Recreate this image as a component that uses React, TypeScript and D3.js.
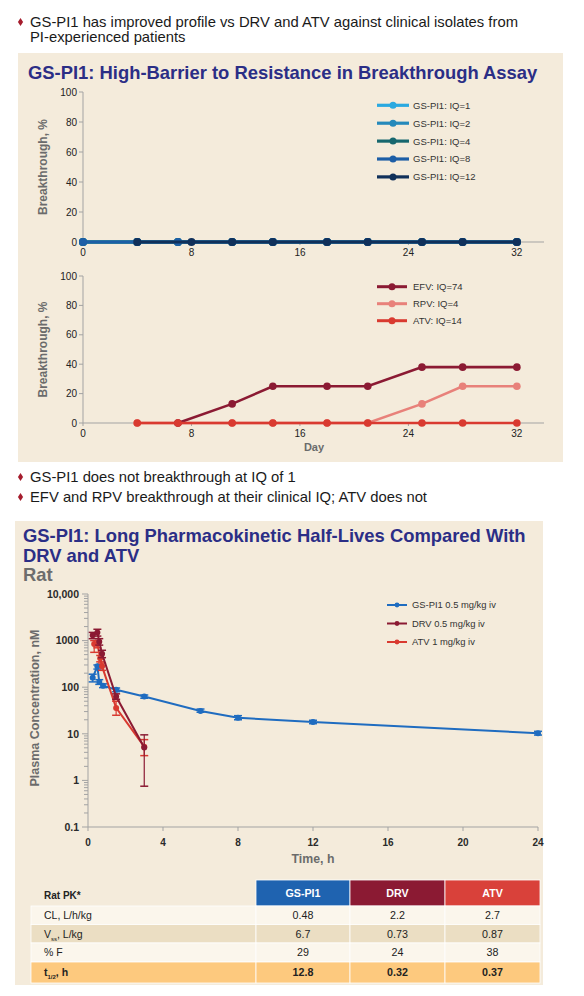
import React from 'react';
import * as d3 from 'd3';

// ---------- DATA ----------
const headerBullet = ['GS-PI1 has improved profile vs DRV and ATV against clinical isolates from', 'PI-experienced patients'];
const chart1Title = 'GS-PI1: High-Barrier to Resistance in Breakthrough Assay';
const midBullets = ['GS-PI1 does not breakthrough at IQ of 1', 'EFV and RPV breakthrough at their clinical IQ; ATV does not'];
const chart2TitleLines = ['GS-PI1: Long Pharmacokinetic Half-Lives Compared With', 'DRV and ATV'];
const chart2Subtitle = 'Rat';

const dayTicks = [0, 8, 16, 24, 32];
const pctTicks = [0, 20, 40, 60, 80, 100];

const gsNames = ['GS-PI1: IQ=1', 'GS-PI1: IQ=2', 'GS-PI1: IQ=4', 'GS-PI1: IQ=8', 'GS-PI1: IQ=12'];
const gsColors = ['#2aa9e0', '#2589bb', '#17676e', '#1d5ea6', '#10305a'];
const gsDays = [
  [0, 4, 7, 11, 14, 18, 21, 25, 28, 32],
  [0, 4, 7, 11, 14, 18, 21, 25, 28, 32],
  [0, 4, 7, 11, 14, 18, 21, 25, 28, 32],
  [0, 4, 7, 11, 14, 18, 21, 25, 28, 32],
  [4, 8, 11, 14, 18, 21, 25, 28, 32],
];
const gsBreakthrough = [
  [0, 0, 0, 0, 0, 0, 0, 0, 0, 0],
  [0, 0, 0, 0, 0, 0, 0, 0, 0, 0],
  [0, 0, 0, 0, 0, 0, 0, 0, 0, 0],
  [0, 0, 0, 0, 0, 0, 0, 0, 0, 0],
  [0, 0, 0, 0, 0, 0, 0, 0, 0],
];

const ctrlNames = ['EFV: IQ=74', 'RPV: IQ=4', 'ATV: IQ=14'];
const ctrlColors = ['#8b1a33', '#e8817a', '#d93a30'];
const efvDays = [7, 11, 14, 18, 21, 25, 28, 32];
const efvBreakthrough = [0, 13, 25, 25, 25, 38, 38, 38];
const rpvDays = [4, 7, 11, 14, 18, 21, 25, 28, 32];
const rpvBreakthrough = [0, 0, 0, 0, 0, 0, 13, 25, 25];
const atvDays = [4, 7, 11, 14, 18, 21, 25, 28, 32];
const atvBreakthrough = [0, 0, 0, 0, 0, 0, 0, 0, 0];

const timeTicks = [0, 4, 8, 12, 16, 20, 24];
const concTicks = [0.1, 1, 10, 100, 1000, 10000];
const concTickLabels = ['0.1', '1', '10', '100', '1000', '10,000'];

const pkNames = ['GS-PI1 0.5 mg/kg iv', 'DRV 0.5 mg/kg iv', 'ATV 1 mg/kg iv'];
const pkColors = ['#1f6cc0', '#8b1a33', '#d93a30'];
const gsTimes = [0.25, 0.5, 0.6, 0.8, 1.5, 3, 6, 8, 12, 24];
const gsConc = [160, 280, 130, 108, 88, 63, 31, 22, 18, 10.3];
const gsLow = [130, 245, 115, 98, 80, 58, 29, 20, 16.5, 9.4];
const gsHigh = [190, 300, 145, 118, 96, 68, 34, 24.5, 19.5, 11.3];
const drvTimes = [0.25, 0.5, 0.6, 0.75, 1.5, 3];
const drvConc = [1300, 1500, 950, 520, 63, 5.1];
const drvLow = [1100, 1250, 800, 430, 55, 0.75];
const drvHigh = [1500, 1750, 1100, 620, 72, 9.5];
const atvTimes = [0.33, 0.5, 0.65, 0.75, 1.5, 3];
const atvConc = [850, 850, 420, 280, 36, 5.3];
const atvLow = [560, 700, 350, 230, 25, 3.4];
const atvHigh = [1000, 1000, 480, 330, 50, 7.5];

const tableHead = 'Rat PK*';
const tableColumns = ['GS-PI1', 'DRV', 'ATV'];
const tableColColors = ['#1f63b0', '#8b1a33', '#d9413a'];
const clValues = ['0.48', '2.2', '2.7'];
const vssValues = ['6.7', '0.73', '0.87'];
const fValues = ['29', '24', '38'];
const halfLifeValues = ['12.8', '0.32', '0.37'];

// ---------- STYLE ----------
const FONT = 'Liberation Sans, Arial, Helvetica, sans-serif';
const BEIGE = '#f4ebdb';
const NAVY = '#2b2e86';
const AXIS = '#a3a3a3';
const BULLET = '#a51d2d';

const Diamond = ({ x, y }: { x: number; y: number }) => (
  <path d={`M${x},${y - 4} L${x + 2.6},${y} L${x},${y + 4} L${x - 2.6},${y} Z`} fill={BULLET} />
);

function BreakthroughChart({ y0, y1, showDay, series }: any) {
  const x = d3.scaleLinear().domain([0, 34]).range([83, 544]);
  const y = d3.scaleLinear().domain([0, 100]).range([y0, y1]);
  const line = d3.line<[number, number]>().x((d) => x(d[0])).y((d) => y(d[1]));
  return (
    <g>
      <line x1={83} x2={83} y1={y(0)} y2={y(100)} stroke={AXIS} strokeWidth={1} />
      <line x1={83} x2={544} y1={y(0)} y2={y(0)} stroke={AXIS} strokeWidth={1} />
      {pctTicks.map((t) => (
        <g key={t}>
          <line x1={79} x2={83} y1={y(t)} y2={y(t)} stroke={AXIS} />
          <text x={77} y={y(t) + 3.6} fontSize={10} textAnchor="end" fill="#222">{t}</text>
        </g>
      ))}
      {dayTicks.map((t) => (
        <g key={t}>
          <line x1={x(t)} x2={x(t)} y1={y(0)} y2={y(0) + 3} stroke={AXIS} />
          <text x={x(t)} y={y(0) + 14} fontSize={10} textAnchor="middle" fill="#222">{t}</text>
        </g>
      ))}
      <text transform={`translate(47,${(y(0) + y(100)) / 2}) rotate(-90)`} fontSize={12} fontWeight="bold" fill="#6b6b6b" textAnchor="middle">Breakthrough, %</text>
      {showDay && <text x={314} y={451} fontSize={11} fontWeight="bold" fill="#6b6b6b" textAnchor="middle">Day</text>}
      {series.map((s: any, i: number) => {
        const pts: [number, number][] = s.days.map((d: number, j: number) => [d, s.values[j]]);
        return (
          <g key={i}>
            <path d={line(pts) || ''} fill="none" stroke={s.color} strokeWidth={s.lw} />
            {pts.map((p, j) => (
              <circle key={j} cx={x(p[0])} cy={y(p[1])} r={s.r} fill={s.color} />
            ))}
          </g>
        );
      })}
    </g>
  );
}

function Legend({ x0, y0, dy, names, colors, lw, r, len, fs, gap }: any) {
  return (
    <g>
      {names.map((n: string, i: number) => (
        <g key={n}>
          <line x1={x0} x2={x0 + len} y1={y0 + i * dy} y2={y0 + i * dy} stroke={colors[i]} strokeWidth={lw} />
          <circle cx={x0 + len / 2} cy={y0 + i * dy} r={r} fill={colors[i]} />
          <text x={x0 + len + gap} y={y0 + i * dy + fs * 0.36} fontSize={fs} fill="#333">{n}</text>
        </g>
      ))}
    </g>
  );
}

function PKChart() {
  const x = d3.scaleLinear().domain([0, 24]).range([88, 538]);
  const y = d3.scaleLog().domain([0.1, 10000]).range([827, 594]);
  const line = d3.line<[number, number]>().x((d) => x(d[0])).y((d) => y(d[1]));
  const minor: number[] = [];
  for (let e = -1; e < 4; e++) for (let k = 2; k <= 9; k++) minor.push(k * Math.pow(10, e));
  const pk = [
    { t: gsTimes, c: gsConc, lo: gsLow, hi: gsHigh, color: pkColors[0] },
    { t: atvTimes, c: atvConc, lo: atvLow, hi: atvHigh, color: pkColors[2] },
    { t: drvTimes, c: drvConc, lo: drvLow, hi: drvHigh, color: pkColors[1] },
  ];
  return (
    <g>
      <line x1={88} x2={88} y1={y(0.1)} y2={y(10000)} stroke={AXIS} />
      <line x1={88} x2={538} y1={y(0.1)} y2={y(0.1)} stroke={AXIS} />
      {minor.map((m) => (
        <line key={m} x1={84} x2={88} y1={y(m)} y2={y(m)} stroke={AXIS} />
      ))}
      {concTicks.map((t, i) => (
        <g key={t}>
          <line x1={82} x2={88} y1={y(t)} y2={y(t)} stroke={AXIS} />
          <text x={79} y={y(t) + 3.8} fontSize={10.5} fontWeight="bold" textAnchor="end" fill="#2a2a2a">{concTickLabels[i]}</text>
        </g>
      ))}
      {timeTicks.map((t) => (
        <g key={t}>
          <line x1={x(t)} x2={x(t)} y1={y(0.1)} y2={y(0.1) + 4} stroke={AXIS} />
          <text x={x(t)} y={y(0.1) + 19} fontSize={10} fontWeight="bold" textAnchor="middle" fill="#2a2a2a">{t}</text>
        </g>
      ))}
      <text x={313} y={863} fontSize={12.3} fontWeight="bold" textAnchor="middle" fill="#6b6b6b">Time, h</text>
      <text transform={`translate(39,${708}) rotate(-90)`} fontSize={12.5} fontWeight="bold" fill="#6b6b6b" textAnchor="middle">Plasma Concentration, nM</text>
      {pk.map((s, i) => {
        const pts: [number, number][] = s.t.map((t, j) => [t, s.c[j]]);
        return (
          <g key={i}>
            <path d={line(pts) || ''} fill="none" stroke={s.color} strokeWidth={2} />
            {pts.map((p, j) => (
              <g key={j}>
                <line x1={x(p[0])} x2={x(p[0])} y1={y(s.lo[j])} y2={y(s.hi[j])} stroke={s.color} strokeWidth={1.2} />
                <line x1={x(p[0]) - 4} x2={x(p[0]) + 4} y1={y(s.lo[j])} y2={y(s.lo[j])} stroke={s.color} strokeWidth={1.5} />
                <line x1={x(p[0]) - 4} x2={x(p[0]) + 4} y1={y(s.hi[j])} y2={y(s.hi[j])} stroke={s.color} strokeWidth={1.5} />
                <circle cx={x(p[0])} cy={y(p[1])} r={3} fill={s.color} />
              </g>
            ))}
          </g>
        );
      })}
      <Legend x0={387} y0={605} dy={18.5} names={pkNames} colors={pkColors} lw={2} r={2.4} len={20} fs={9.4} gap={5} />
    </g>
  );
}

function PKTable() {
  const colX = [256, 350, 445, 540];
  const rowY = [880, 906, 924.5, 943, 962, 983];
  const rowFills = ['#fbf6ec', '#ebdec3', '#fbf6ec', '#fdc97e'];
  const rows = [clValues, vssValues, fValues, halfLifeValues];
  const labels = [
    <tspan key="a">CL, L/h/kg</tspan>,
    <>
      <tspan>V</tspan>
      <tspan dy={3} fontSize={6}>ss</tspan>
      <tspan dy={-3}>, L/kg</tspan>
    </>,
    <tspan key="c">% F</tspan>,
    <>
      <tspan>t</tspan>
      <tspan dy={3} fontSize={6}>1/2</tspan>
      <tspan dy={-3}>, h</tspan>
    </>,
  ];
  return (
    <g fontFamily={FONT}>
      <text x={44} y={898.5} fontSize={10} fontWeight="bold" fill="#222">{tableHead}</text>
      {tableColumns.map((c, i) => (
        <g key={c}>
          <rect x={colX[i]} y={rowY[0]} width={colX[i + 1] - colX[i]} height={rowY[1] - rowY[0]} fill={tableColColors[i]} stroke="#fff" strokeWidth={0.8} />
          <text x={(colX[i] + colX[i + 1]) / 2} y={(rowY[0] + rowY[1]) / 2 + 3.8} fontSize={10.7} fontWeight="bold" fill="#fff" textAnchor="middle">{c}</text>
        </g>
      ))}
      {rows.map((vals, r) => (
        <g key={r} fontWeight={r === 3 ? 'bold' : 'normal'}>
          <rect x={31} y={rowY[r + 1]} width={colX[0] - 31} height={rowY[r + 2] - rowY[r + 1]} fill={rowFills[r]} stroke="#fff" strokeWidth={0.8} />
          <text x={44} y={(rowY[r + 1] + rowY[r + 2]) / 2 + 3.8} fontSize={10.5} fill="#222">{labels[r]}</text>
          {vals.map((v, i) => (
            <g key={i}>
              <rect x={colX[i]} y={rowY[r + 1]} width={colX[i + 1] - colX[i]} height={rowY[r + 2] - rowY[r + 1]} fill={rowFills[r]} stroke="#fff" strokeWidth={0.8} />
              <text x={(colX[i] + colX[i + 1]) / 2} y={(rowY[r + 1] + rowY[r + 2]) / 2 + 3.8} fontSize={10.7} fill="#222" textAnchor="middle">{v}</text>
            </g>
          ))}
        </g>
      ))}
    </g>
  );
}

export default function App() {
  const gsSeries = gsNames.map((n, i) => ({ days: gsDays[i], values: gsBreakthrough[i], color: gsColors[i], lw: 3.2, r: 4 }));
  const ctrlSeries = [
    { days: rpvDays, values: rpvBreakthrough, color: ctrlColors[1], lw: 2.6, r: 3.8 },
    { days: efvDays, values: efvBreakthrough, color: ctrlColors[0], lw: 2.6, r: 3.8 },
    { days: atvDays, values: atvBreakthrough, color: ctrlColors[2], lw: 2.6, r: 3.8 },
  ];
  return (
    <div style={{ position: 'absolute', left: 0, top: 0 }}>
      <svg width={584} height={996} style={{ display: 'block', background: '#fff' }} fontFamily={FONT}>
        <Diamond x={20.5} y={22} />
        <text x={30} y={27.3} fontSize={14.8} fill="#1a1a1a">{headerBullet[0]}</text>
        <text x={30} y={41.5} fontSize={14.8} fill="#1a1a1a">{headerBullet[1]}</text>

        <rect x={18} y={53} width={545} height={409} fill={BEIGE} />
        <text x={28} y={78.6} fontSize={18.4} fontWeight="bold" fill={NAVY}>{chart1Title}</text>
        <BreakthroughChart y0={242} y1={92} showDay={false} series={gsSeries} />
        <Legend x0={377} y0={105.3} dy={17.9} names={gsNames} colors={gsColors} lw={3.2} r={3.5} len={32} fs={9.5} gap={4} />
        <BreakthroughChart y0={423} y1={276} showDay={true} series={ctrlSeries} />
        <Legend x0={377} y0={286.7} dy={17} names={ctrlNames} colors={ctrlColors} lw={3} r={3.5} len={30} fs={9.5} gap={6} />

        <Diamond x={20.5} y={477} />
        <text x={30} y={482.3} fontSize={14.8} fill="#1a1a1a">{midBullets[0]}</text>
        <Diamond x={20.5} y={497} />
        <text x={30} y={502.3} fontSize={14.8} fill="#1a1a1a">{midBullets[1]}</text>

        <rect x={15} y={521} width={528} height={464} fill={BEIGE} />
        <text x={23} y={541.6} fontSize={18.4} fontWeight="bold" fill={NAVY}>{chart2TitleLines[0]}</text>
        <text x={23} y={561.6} fontSize={18.4} fontWeight="bold" fill={NAVY}>{chart2TitleLines[1]}</text>
        <text x={23} y={580.6} fontSize={18.4} fontWeight="bold" fill="#6d6d6d">{chart2Subtitle}</text>
        <PKChart />
        <PKTable />
      </svg>
    </div>
  );
}
